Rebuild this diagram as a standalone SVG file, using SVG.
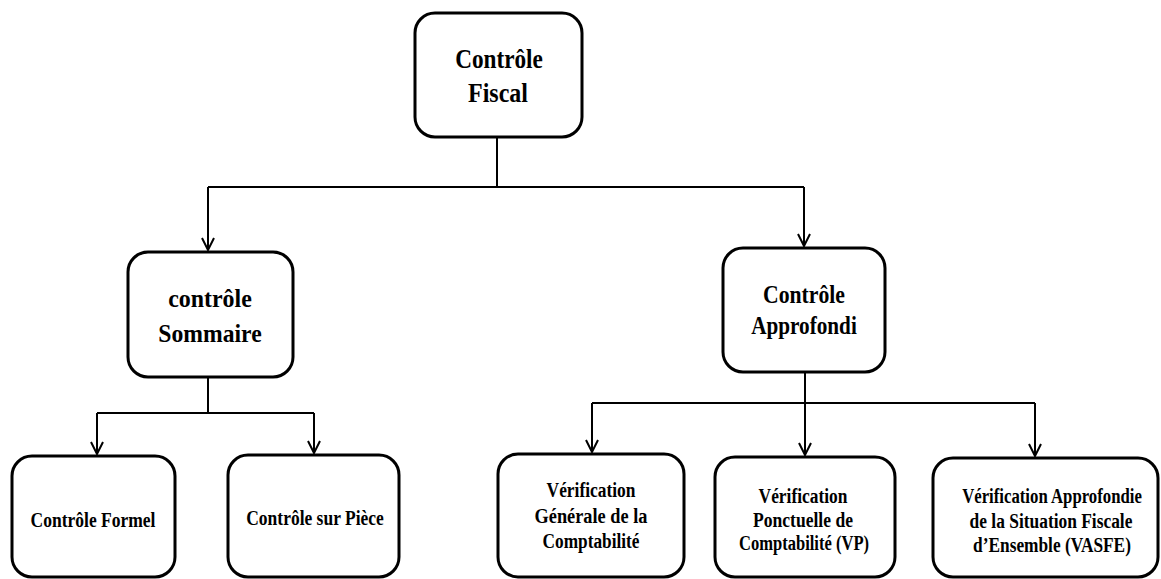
<svg xmlns="http://www.w3.org/2000/svg" width="1161" height="579" viewBox="0 0 1161 579">
<style>
.box{fill:#fff;stroke:#000;stroke-width:3}
.t{font-family:"Liberation Serif","Times New Roman",serif;font-weight:bold;fill:#000;text-anchor:middle}
.big{font-size:28px}
.mid{font-size:26px}
.sm{font-size:21px}
.con{fill:none;stroke:#000;stroke-width:2}
</style>
<defs>
<marker id="arr" markerUnits="userSpaceOnUse" viewBox="0 0 14 14" refX="13" refY="7" markerWidth="14" markerHeight="14" orient="auto">
<path d="M1,1 L13,7 L1,13" fill="none" stroke="#000" stroke-width="2"/>
</marker>
</defs>
<rect width="1161" height="579" fill="#fff"/>
<g id="connectors">
<path class="con" d="M497,138 V187 M208,187 H804"/>
<path class="con" d="M208,187 V250" marker-end="url(#arr)"/>
<path class="con" d="M804,187 V246" marker-end="url(#arr)"/>
<path class="con" d="M208,377 V413 M97,413 H314"/>
<path class="con" d="M97,413 V454" marker-end="url(#arr)"/>
<path class="con" d="M314,413 V453" marker-end="url(#arr)"/>
<path class="con" d="M805,372 V403 M592,403 H1035"/>
<path class="con" d="M592,403 V452" marker-end="url(#arr)"/>
<path class="con" d="M805,403 V455" marker-end="url(#arr)"/>
<path class="con" d="M1035,403 V456" marker-end="url(#arr)"/>
</g>
<g id="n-fiscal">
<rect class="box" x="415" y="13" width="167" height="124" rx="20"/>
<text class="t big" transform="translate(499,68) scale(0.83,1)">Contrôle</text>
<text class="t big" transform="translate(498,102) scale(0.857,1)">Fiscal</text>
</g>
<g id="n-sommaire">
<rect class="box" x="128" y="252" width="165" height="125" rx="20"/>
<text class="t mid" transform="translate(210,307) scale(0.92,1)">contrôle</text>
<text class="t mid" transform="translate(210,342) scale(0.91,1)">Sommaire</text>
</g>
<g id="n-approfondi">
<rect class="box" x="723" y="248" width="162" height="124" rx="20"/>
<text class="t mid" transform="translate(804,303) scale(0.835,1)">Contrôle</text>
<text class="t mid" transform="translate(804,334) scale(0.815,1)">Approfondi</text>
</g>
<g id="n-formel">
<rect class="box" x="12" y="456" width="163" height="121" rx="20"/>
<text class="t sm" transform="translate(93,527) scale(0.834,1)">Contrôle Formel</text>
</g>
<g id="n-piece">
<rect class="box" x="228" y="455" width="171" height="122" rx="20"/>
<text class="t sm" transform="translate(315,525) scale(0.833,1)">Contrôle sur Pièce</text>
</g>
<g id="n-vgc">
<rect class="box" x="498" y="454" width="186" height="123" rx="20"/>
<text class="t sm" transform="translate(591,497) scale(0.829,1)">Vérification</text>
<text class="t sm" transform="translate(591,523) scale(0.873,1)">Générale de la</text>
<text class="t sm" transform="translate(591,548) scale(0.823,1)">Comptabilité</text>
</g>
<g id="n-vp">
<rect class="box" x="715" y="457" width="180" height="120" rx="20"/>
<text class="t sm" transform="translate(803,503) scale(0.829,1)">Vérification</text>
<text class="t sm" transform="translate(803,527) scale(0.836,1)">Ponctuelle de</text>
<text class="t sm" transform="translate(804,550) scale(0.788,1)">Comptabilité (VP)</text>
</g>
<g id="n-vasfe">
<rect class="box" x="933" y="458" width="225" height="119" rx="20"/>
<text class="t sm" transform="translate(1052,503) scale(0.798,1)">Vérification Approfondie</text>
<text class="t sm" transform="translate(1051,528) scale(0.829,1)">de la Situation Fiscale</text>
<text class="t sm" transform="translate(1052,552) scale(0.824,1)">d’Ensemble (VASFE)</text>
</g>
</svg>
